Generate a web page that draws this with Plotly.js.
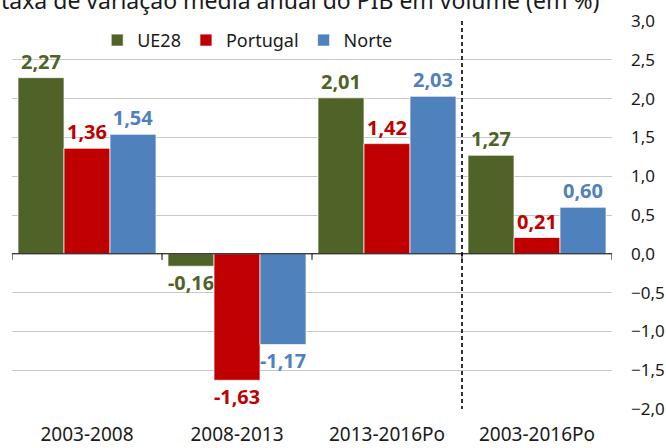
<!DOCTYPE html>
<html>
<head>
<meta charset="utf-8">
<script src="https://cdn.plot.ly/plotly-3.0.1.min.js"></script>
<style>html,body{margin:0;padding:0;background:#fff}#chart{width:666px;height:448px}</style>
</head>
<body>
<div id="chart"></div>
<script>
const categories = ["2003-2008", "2008-2013", "2013-2016Po", "2003-2016Po"];
const ue28 = [2.27, -0.16, 2.01, 1.27];
const portugal = [1.36, -1.63, 1.42, 0.21];
const norte = [1.54, -1.17, 2.03, 0.60];
const yTicks = [-2, -1.5, -1, -0.5, 0, 0.5, 1, 1.5, 2, 2.5, 3];

const FONT = "Noto Sans, Open Sans, sans-serif";
const colors = {ue: "#4F6228", pt: "#C00000", no: "#4F81BD"};

function barTrace(name, vals, color) {
  return {
    type: "bar", name: name, x: categories, y: vals,
    marker: {color: color, line: {color: "rgba(255,255,255,0.7)", width: 1}},
    texttemplate: "%{y:.2f}", textposition: "outside", cliponaxis: false,
    textfont: {family: FONT, size: 20, color: color, weight: 700},
    hoverinfo: "skip"
  };
}

const data = [
  barTrace("UE28", ue28, colors.ue),
  barTrace("Portugal", portugal, colors.pt),
  barTrace("Norte", norte, colors.no)
];

const shapes = [];
for (let k = 0; k <= categories.length; k++) {
  shapes.push({type: "line", xref: "x", yref: "y", x0: k - 0.5, x1: k - 0.5, y0: 0, y1: -0.078,
    line: {color: "#000", width: 1}});
}
shapes.push({type: "line", xref: "x", yref: "y", x0: -0.5, x1: categories.length - 0.5, y0: 0, y1: 0,
  line: {color: "#000", width: 1}});
shapes.push({type: "line", xref: "x", yref: "y", x0: 2.5, x1: 2.5, y0: 3, y1: -2,
  line: {color: "#000", width: 1.6, dash: "4px,3px"}});

const layout = {
  width: 666, height: 448,
  margin: {l: 12, r: 54, t: 21, b: 39},
  paper_bgcolor: "#fff", plot_bgcolor: "#fff",
  separators: ",.",
  barmode: "group", bargap: 0.08, bargroupgap: 0,
  font: {family: FONT, color: "#1a1a1a"},
  showlegend: true,
  legend: {orientation: "h", x: 0.142, xanchor: "left", y: 0.95, yanchor: "middle",
    font: {family: FONT, size: 18, color: "#1a1a1a"}, bgcolor: "rgba(0,0,0,0)", itemclick: false},
  xaxis: {type: "category", showgrid: false, zeroline: false, showline: false, ticks: "",
    tickfont: {family: FONT, size: 19, color: "#1a1a1a"}, ticklabelstandoff: 12,
    range: [-0.5, 3.5], fixedrange: true},
  yaxis: {side: "right", range: [-2, 3], tickvals: yTicks, tickformat: ".1f",
    showgrid: true, gridcolor: "#c8c8c8", gridwidth: 1, zeroline: false, showline: false,
    ticks: "", tickfont: {family: FONT, size: 17, color: "#1a1a1a"}, ticklabelstandoff: 18,
    fixedrange: true},
  shapes: shapes,
  annotations: [{text: "taxa de variação média anual do PIB em volume (em %)", xref: "paper", yref: "paper",
    x: -0.022, xanchor: "left", y: 1.055, yanchor: "middle", showarrow: false,
    font: {family: FONT, size: 23, color: "#1a1a1a"}}]
};

Plotly.newPlot("chart", data, layout, {displayModeBar: false, staticPlot: true});
</script>
</body>
</html>
